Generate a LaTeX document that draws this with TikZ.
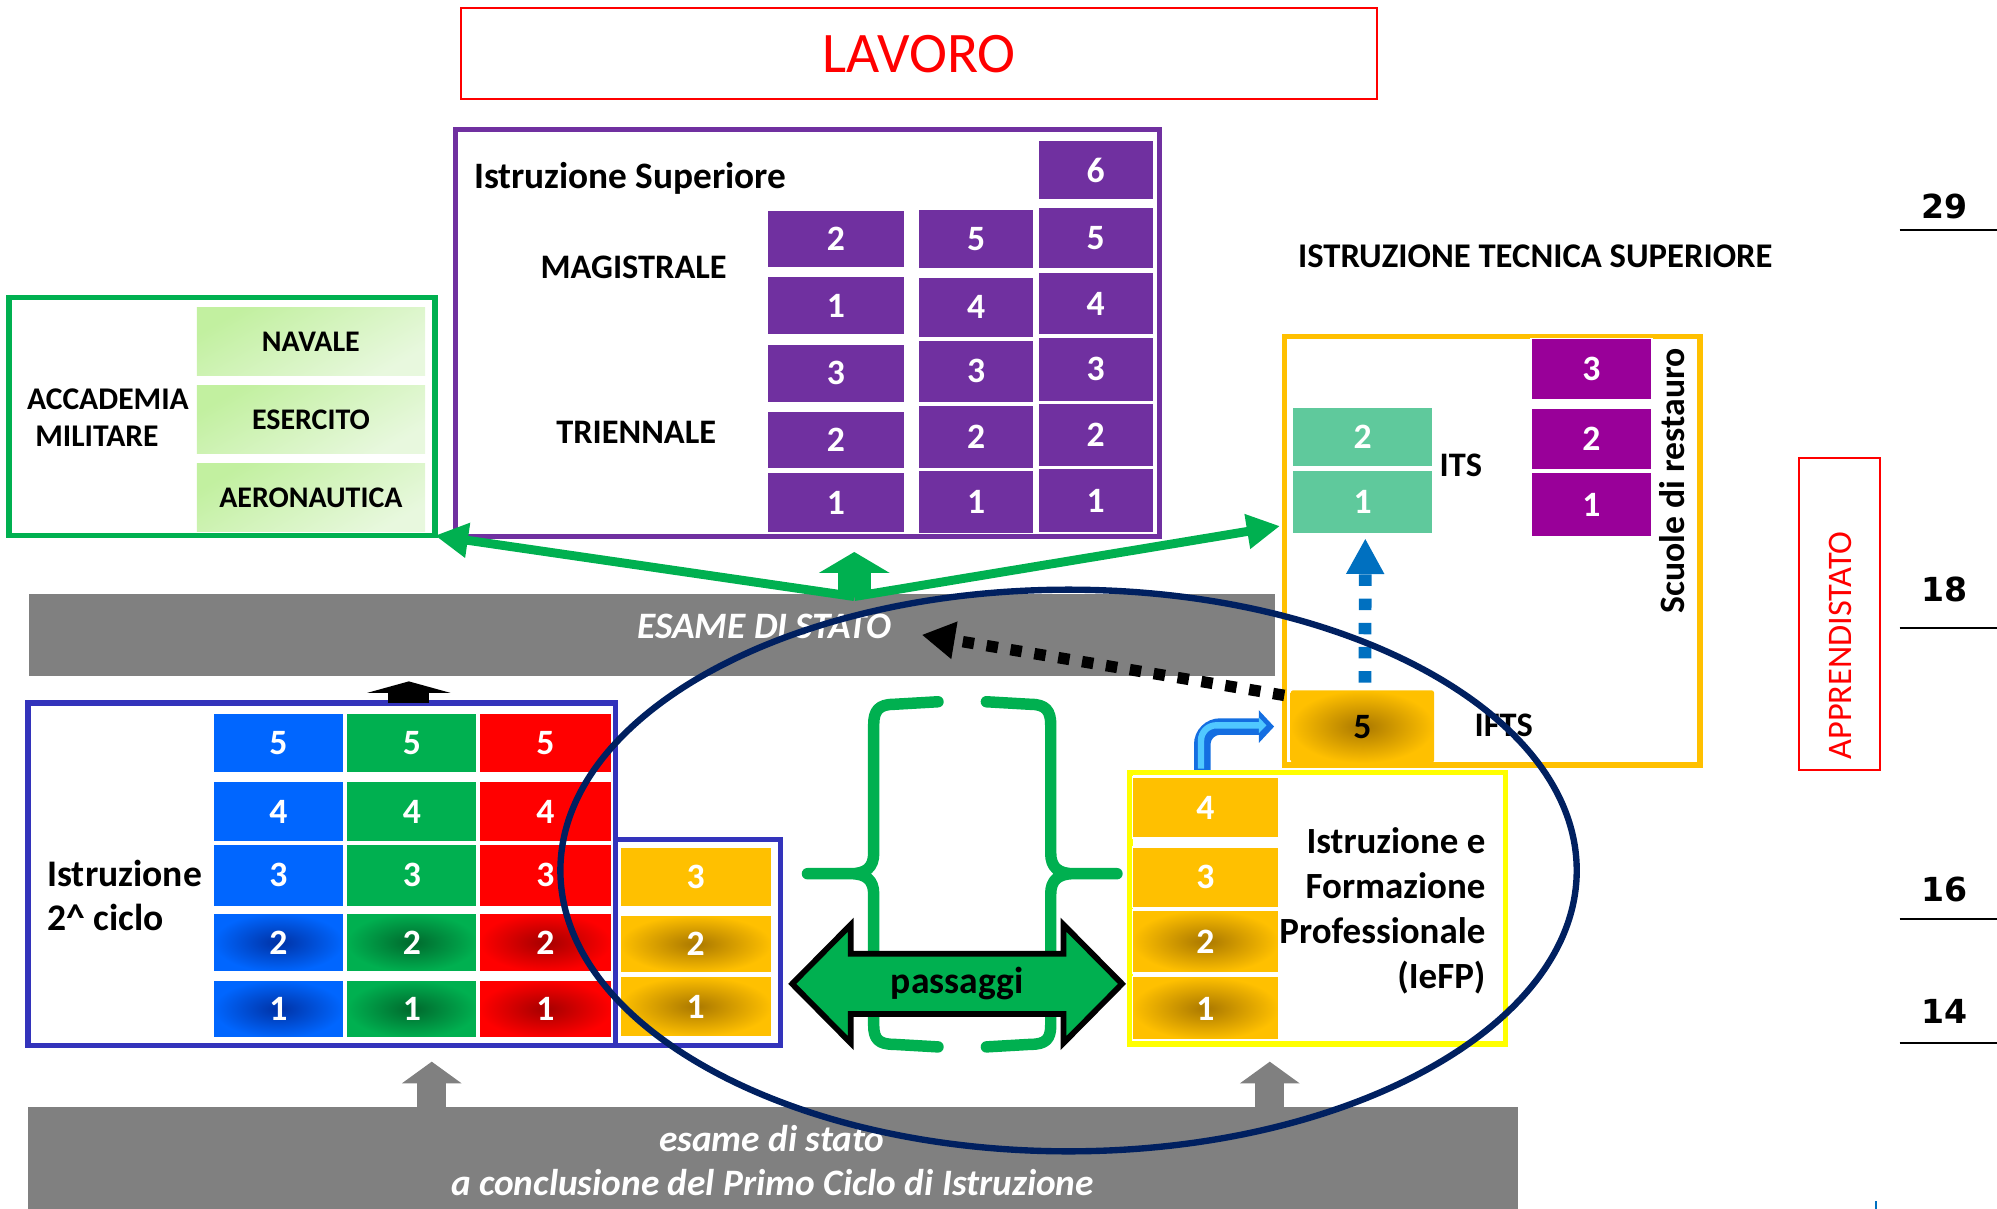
\documentclass[tikz,border=0pt]{standalone}
\usepackage{fontspec}
\setmainfont{Carlito}
\newfontfamily\verdfont{DejaVu Sans}
\usetikzlibrary{arrows.meta,calc}
\definecolor{purp}{RGB}{112,48,160}
\definecolor{mag}{RGB}{153,0,153}
\definecolor{teal2}{RGB}{95,201,156}
\definecolor{grn}{RGB}{0,176,80}
\definecolor{grndk}{RGB}{0,105,45}
\definecolor{blu}{RGB}{0,102,255}
\definecolor{bludk}{RGB}{0,50,165}
\definecolor{rd}{RGB}{255,0,0}
\definecolor{rddk}{RGB}{165,0,0}
\definecolor{gold}{RGB}{255,192,0}
\definecolor{golddk}{RGB}{170,120,0}
\definecolor{boxblue}{RGB}{51,51,187}
\definecolor{navy}{RGB}{0,32,96}
\definecolor{gry}{RGB}{128,128,128}
\definecolor{lg1}{RGB}{194,240,160}
\definecolor{lg2}{RGB}{232,248,222}
\definecolor{arrblue}{RGB}{0,112,192}
\definecolor{skyA}{RGB}{20,110,225}
\definecolor{skyB}{RGB}{80,200,255}
\definecolor{yel}{RGB}{255,255,0}
\newcommand{\fs}[1]{\fontsize{#1}{#1}\selectfont}
\newcommand{\rb}[7]{\node[#6, minimum width={(#4)-(#2)}, minimum height={(#5)-(#3)}] (#1) at ({((#2)+(#4))/2},{((#3)+(#5))/2}) {#7};}
\begin{document}
\begin{tikzpicture}[x=1pt,y=-1pt,
  cell/.style={draw=white, line width=1pt, inner sep=0pt, outer sep=0pt, text=white, font=\bfseries\fs{28}},
  pcell/.style={cell, fill=purp},
  mcell/.style={cell, fill=mag},
  tcell/.style={cell, fill=teal2},
  bcell/.style={cell, fill=blu},
  bcellr/.style={cell, inner color=bludk, outer color=blu},
  gcell/.style={cell, fill=grn},
  gcellr/.style={cell, inner color=grndk, outer color=grn},
  rcell/.style={cell, fill=rd},
  rcellr/.style={cell, inner color=rddk, outer color=rd},
  ycell/.style={cell, fill=gold},
  ycellr/.style={cell, inner color=golddk, outer color=gold},
  lgcell/.style={cell, draw=none, text=black, font=\bfseries\fs{23.5}, top color=lg1, bottom color=lg2, shading angle=30},
  frame/.style={line width=4pt, inner sep=0pt, outer sep=0pt},
  lbl/.style={font=\bfseries\fs{27}, inner sep=0pt},
  wlbl/.style={text=white, font=\bfseries\itshape\fs{29.3}, inner sep=0pt, anchor=base},
  age/.style={font=\verdfont\bfseries\fs{26}, inner sep=0pt, anchor=base},
  garrow/.style={grn, line width=7pt, -{Triangle[length=26pt,width=26pt]}},
  grayarrow/.style={gry, line width=23pt, -{Triangle[length=17pt,width=46pt]}},
  brace/.style={grn, line width=9pt, line cap=round, line join=round},
]
\useasboundingbox (0,0) rectangle (1568,949);

% ---------- LAVORO
\rb{lavoro}{362.3}{6.5}{1081.3}{77.8}{draw=rd, line width=1.6pt, inner sep=0pt, text=rd, font=\fs{45}}{LAVORO}

% ---------- Istruzione superiore
\rb{sup}{357.5}{102}{910.5}{421}{frame, draw=purp}{}
\node[lbl, anchor=base west, font=\bfseries\fs{29.3}] (suptitle) at (372,148) {Istruzione Superiore};
\rb{s16}{815.2}{110}{905.5}{157}{pcell}{6}
\rb{s15}{815.2}{163}{905.5}{211}{pcell}{5}
\rb{s14}{815.2}{213.5}{905.5}{263}{pcell}{4}
\rb{s13}{815.2}{265}{905.5}{315}{pcell}{3}
\rb{s12}{815.2}{316.5}{905.5}{366.5}{pcell}{2}
\rb{s11}{815.2}{368}{905.5}{418.5}{pcell}{1}
\rb{s25}{721.3}{164.4}{811.6}{211.2}{pcell}{5}
\rb{s24}{721.3}{217.8}{811.6}{264.9}{pcell}{4}
\rb{s23}{721.3}{267}{811.6}{316.2}{pcell}{3}
\rb{s22}{721.3}{318.5}{811.6}{367.7}{pcell}{2}
\rb{s21}{721.3}{369.6}{811.6}{418.8}{pcell}{1}
\rb{s3m2}{602.5}{165}{710.3}{210}{pcell}{2}
\rb{s3m1}{602.5}{217}{710.3}{263}{pcell}{1}
\rb{s33}{602.5}{270}{710.3}{316}{pcell}{3}
\rb{s32}{602.5}{323}{710.3}{368}{pcell}{2}
\rb{s31}{602.5}{371}{710.3}{418}{pcell}{1}
\node[lbl, anchor=base] (mag) at (497.5,219) {MAGISTRALE};
\node[lbl, anchor=base] (tri) at (499.5,348) {TRIENNALE};

% ---------- Accademia militare
\rb{acc}{7}{233.5}{341.5}{420.5}{frame, draw=grn, line width=4.5pt}{}
\rb{nav}{154.5}{241.6}{333.7}{294.5}{lgcell}{NAVALE}
\rb{ese}{154.5}{303}{333.7}{356}{lgcell}{ESERCITO}
\rb{aer}{154.5}{364}{333.7}{417.5}{lgcell}{AERONAUTICA}
\node[lbl, anchor=base west, font=\bfseries\fs{24.8}] (acc1) at (21,321.4) {ACCADEMIA};
\node[lbl, anchor=base west, font=\bfseries\fs{24.8}] (acc2) at (27.5,350.7) {MILITARE};

% ---------- Istruzione tecnica superiore
\node[lbl, anchor=base west, font=\bfseries\fs{27.2}] (itstitle) at (1019,210) {ISTRUZIONE TECNICA SUPERIORE};
\rb{itsbox}{1008.5}{264.3}{1334.8}{600.8}{frame, draw=gold, line width=4.4pt}{}
\rb{its2}{1015}{319.6}{1125}{366.4}{tcell}{2}
\rb{its1}{1015}{369}{1125}{418.7}{tcell}{1}
\node[lbl, anchor=base] (itslbl) at (1147,374) {ITS};
\rb{res3}{1202}{265.5}{1297}{314}{mcell}{3}
\rb{res2}{1202}{320.5}{1297}{369}{mcell}{2}
\rb{res1}{1202}{371}{1297}{421.4}{mcell}{1}
\node[lbl, anchor=base, rotate=90, font=\bfseries\fs{28}] (res) at (1323,377.5) {Scuole di restauro};
\rb{ifts}{1013.4}{542}{1126}{599}{ycellr, draw=none, rounded corners=2pt, text=black}{5}
\node[lbl, anchor=base] (iftslbl) at (1180.7,578) {IFTS};

% ---------- ages and apprendistato
\node[age] (a29) at (1527,171.4) {29};
\node[age] (a18) at (1527,472.4) {18};
\node[age] (a16) at (1527,708) {16};
\node[age] (a14) at (1527,804) {14};
\draw[line width=1.5pt] (1491.5,180.6) -- (1568,180.6);
\draw[line width=1.5pt] (1491.5,493) -- (1568,493);
\draw[line width=1.5pt] (1491.5,721.4) -- (1568,721.4);
\draw[line width=1.5pt] (1491.5,819) -- (1568,819);
\rb{appr}{1412.5}{359.3}{1476}{604.8}{draw=rd, line width=1.5pt, inner sep=0pt}{}
\node[anchor=base, rotate=90, text=rd, font=\fs{27}, inner sep=0pt] (apprlbl) at (1454,506.8) {APPRENDISTATO};

% ---------- Esame di stato bar
\rb{esame}{22.8}{466.4}{1000.7}{530.5}{fill=gry, inner sep=0pt, outer sep=0pt}{}
\node[wlbl] (esamelbl) at (600,501.7) {ESAME DI STATO};

% ---------- Istruzione 2^ ciclo
\rb{twoc}{22}{552}{483}{821}{frame, draw=boxblue}{}
\rb{twox}{483}{659.5}{613}{821}{frame, draw=boxblue}{}
\rb{b5}{167.5}{560}{269.6}{607}{bcell}{5}
\rb{b4}{167.5}{613.7}{269.6}{661}{bcell}{4}
\rb{b3}{167.5}{662.7}{269.6}{712}{bcell}{3}
\rb{b2}{167.5}{717}{269.6}{763}{bcellr}{2}
\rb{b1}{167.5}{769.5}{269.6}{815}{bcellr}{1}
\rb{g5}{272.3}{560}{374.6}{607}{gcell}{5}
\rb{g4}{272.3}{613.7}{374.6}{661}{gcell}{4}
\rb{g3}{272.3}{662.7}{374.6}{712}{gcell}{3}
\rb{g2}{272.3}{717}{374.6}{763}{gcellr}{2}
\rb{g1}{272.3}{769.5}{374.6}{815}{gcellr}{1}
\rb{r5}{376.6}{560}{480}{607}{rcell}{5}
\rb{r4}{376.6}{613.7}{480}{661}{rcell}{4}
\rb{r3}{376.6}{662.7}{480}{712}{rcell}{3}
\rb{r2}{376.6}{717}{480}{763}{rcellr}{2}
\rb{r1}{376.6}{769.5}{480}{815}{rcellr}{1}
\rb{y3}{486.7}{665}{605.7}{712}{ycell}{3}
\rb{y2}{486.7}{718.5}{605.7}{764}{ycellr}{2}
\rb{y1}{486.7}{766.5}{605.7}{814}{ycellr}{1}
\node[lbl, anchor=base west, font=\bfseries\fs{29.5}] (ist1) at (37,696) {Istruzione};
\node[lbl, anchor=base west, font=\bfseries\fs{29.5}] (ist2) at (37,730.7) {2\textasciicircum{} ciclo};

% ---------- IeFP
\rb{iefp}{887.5}{606.5}{1182}{819.5}{frame, draw=yel, line width=4.5pt}{}
\rb{f4}{889}{610}{1004}{658}{ycell}{4}
\rb{f3}{889}{665}{1004}{712.7}{ycell}{3}
\rb{f2}{889}{714.5}{1004}{764}{ycellr}{2}
\rb{f1}{889}{767}{1004}{816.6}{ycellr}{1}
\node[lbl, anchor=base east, font=\bfseries\fs{29}] (ie1) at (1166.5,670) {Istruzione e};
\node[lbl, anchor=base east, font=\bfseries\fs{29}] (ie2) at (1166.5,705.3) {Formazione};
\node[lbl, anchor=base east, font=\bfseries\fs{29}] (ie3) at (1166.5,740.7) {Professionale};
\node[lbl, anchor=base east, font=\bfseries\fs{29}] (ie4) at (1166.5,775.8) {(IeFP)};

% ---------- braces
\draw[brace] (736.5,551) -- (702,553) .. controls (690,553) and (686,558) .. (686,569) -- (686,670)
  .. controls (686,681) and (680,686) .. (668,686) -- (634,686) -- (668,686)
  .. controls (680,686) and (686,691) .. (686,702) -- (686,805)
  .. controls (686,816) and (690,820) .. (702,820) -- (736.5,822);
\draw[brace] (774.5,551) -- (809,553) .. controls (821,553) and (825,558) .. (825,569) -- (825,670)
  .. controls (825,681) and (831,686) .. (843,686) -- (877,686) -- (843,686)
  .. controls (831,686) and (825,691) .. (825,702) -- (825,805)
  .. controls (825,816) and (821,820) .. (809,820) -- (774.5,822);

% ---------- passaggi double arrow
\coordinate (pc) at (751.5,772.5);
\draw[fill=grn, line width=4.5pt, line join=miter] ($(pc)+(-129.5,0)$) -- ++(46,-46.5) -- ++(0,22.8) -- ++(167,0) -- ++(0,-22.8)
  -- ($(pc)+(129.5,0)$) -- ++(-46,46.5) -- ++(0,-22.8) -- ++(-167,0) -- ++(0,22.8) -- cycle;
\node[font=\bfseries\fs{29.5}, inner sep=0pt] (pass) at (pc) {passaggi};

% ---------- bent arrow IeFP -> IFTS
\draw[skyA, line width=13pt, rounded corners=14pt, -{Triangle[length=12pt,width=25pt]}]
  ($(iefp.north west)+(56.5,-2)$) |- ($(ifts.west)+(-13,0)$);
\draw[skyB, line width=5pt, rounded corners=12pt, -{Triangle[length=6pt,width=12pt]}]
  ($(iefp.north west)+(55.5,-3)$) |- ($(ifts.west)+(-19,-1)$);

% ---------- blue dashed ITS arrow
\draw[arrblue, line width=10pt, dash pattern=on 9pt off 10pt, -{Triangle[length=28pt,width=28pt]}]
  ($(ifts.north)+(2,-6)$) -- ($(its1.south)+(2,4)$);

% ---------- black dotted arrow to esame
\draw[black, line width=9pt, dash pattern=on 9pt off 10pt, -{Triangle[length=26pt,width=28pt]}]
  ($(ifts.north west)+(-5,4)$) -- ($(esame.center)+(212,0)$);

% ---------- green arrows from esame
\coordinate (hub) at ($(esame.north)+(159,2)$);
\draw[grn, line width=26pt, -{Triangle[length=16.5pt,width=55pt]}] (hub) -- ++(0,-35);
\draw[garrow] (hub) -- (acc.south east);
\draw[garrow] (hub) -- ($(itsbox.west)+(-3.5,-19.5)$);

% ---------- black arrow 2^ ciclo -> esame
\draw[black, line width=32pt, -{Triangle[length=9pt,width=65pt]}] ($(twoc.north west)+(299,0)$) -- ++(0,-17);

% ---------- bottom bar
\rb{bottombar}{22}{869}{1192}{949}{fill=gry, inner sep=0pt, outer sep=0pt}{}
\node[wlbl] (pc1) at (606,904.3) {esame di stato};
\node[wlbl] (pc2) at (606.5,939) {a conclusione del Primo Ciclo di Istruzione};
\draw[grayarrow] ($(bottombar.north west)+(317,0)$) -- ++(0,-35.4);
\draw[grayarrow] ($(bottombar.north west)+(975,0)$) -- ++(0,-35.4);

\draw[arrblue, line width=2pt] (1473,943) -- (1473,949);

% ---------- ellipse
\draw[navy, line width=5pt] (839,683.5) ellipse [x radius=399pt, y radius=220.5pt];
\end{tikzpicture}
\end{document}
